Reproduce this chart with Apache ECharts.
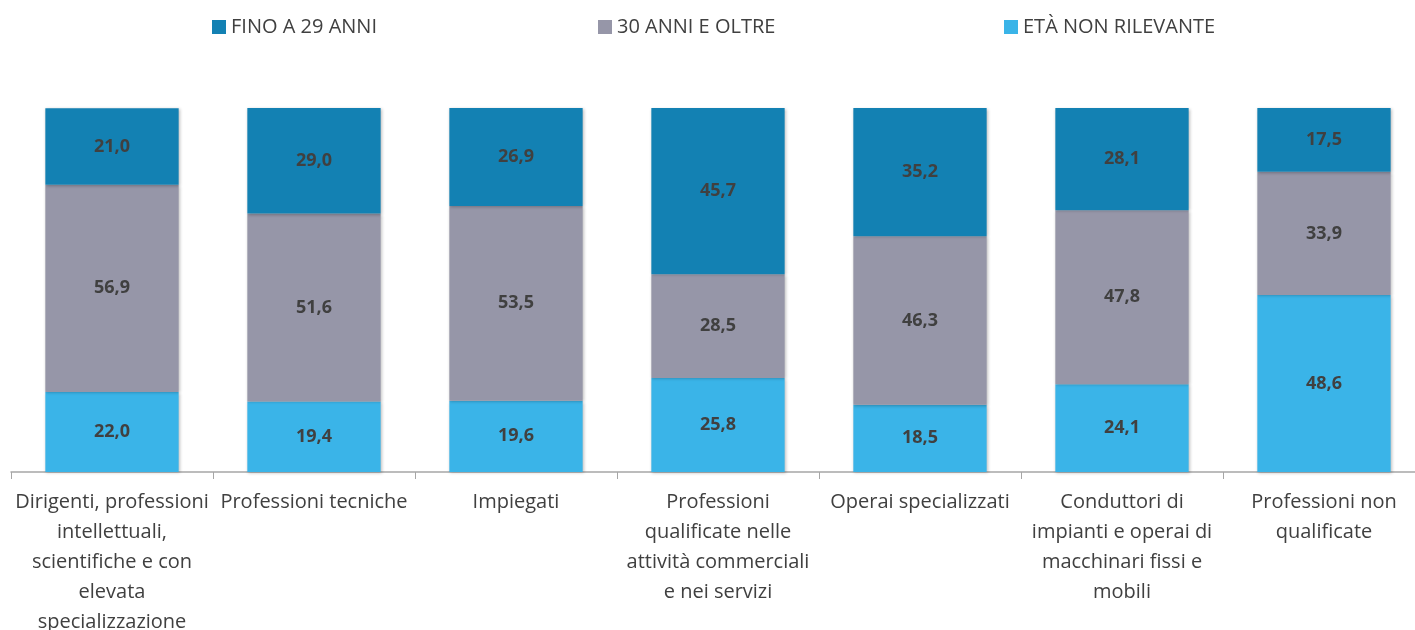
<!DOCTYPE html>
<html>
<head>
<meta charset="utf-8">
<script src="https://cdn.jsdelivr.net/npm/echarts@6/dist/echarts.min.js"></script>
<style>
  html, body { margin: 0; padding: 0; background: #fff; }
  #chart { width: 1415px; height: 630px; }
</style>
</head>
<body>
<div id="chart"></div>
<script>
const categories = [
  'Dirigenti, professioni\nintellettuali,\nscientifiche e con\nelevata\nspecializzazione',
  'Professioni tecniche',
  'Impiegati',
  'Professioni\nqualificate nelle\nattività commerciali\ne nei servizi',
  'Operai specializzati',
  'Conduttori di\nimpianti e operai di\nmacchinari fissi e\nmobili',
  'Professioni non\nqualificate'
]
const etaNonRilevante = [22.0, 19.4, 19.6, 25.8, 18.5, 24.1, 48.6]
const trentaEOltre = [56.9, 51.6, 53.5, 28.5, 46.3, 47.8, 33.9]
const fino29 = [21.0, 29.0, 26.9, 45.7, 35.2, 28.1, 17.5]

const FONT = 'Open Sans'
const TXT = '#404040'

let myChart = echarts.init(document.getElementById('chart'))

const labelStyle = {
  show: true,
  position: 'inside',
  color: TXT,
  fontFamily: FONT,
  fontWeight: 'bold',
  fontSize: 18,
  formatter: p => p.value.toFixed(1).replace('.', ',')
}
const barShadow = {
  shadowColor: 'rgba(0,0,0,0.25)',
  shadowBlur: 3,
  shadowOffsetX: 1,
  shadowOffsetY: 1
}
function legendAt(name, left) {
  return {
    data: [name],
    left: left,
    top: 12,
    itemWidth: 14,
    itemHeight: 14,
    itemGap: 6,
    icon: 'rect',
    textStyle: { fontFamily: FONT, fontSize: 20, color: TXT }
  }
}

myChart.setOption({
  animation: false,
  legend: [
    legendAt('FINO A 29 ANNI', 207),
    legendAt('30 ANNI E OLTRE', 593),
    legendAt('ETÀ NON RILEVANTE', 999)
  ],
  grid: {
    left: 11,
    top: 108,
    width: 1414,
    bottom: 158,
    outerBoundsMode: 'none'
  },
  xAxis: {
    type: 'category',
    data: categories,
    axisLine: { lineStyle: { color: '#a6a6a6', width: 1.5 } },
    axisTick: { show: true, length: 7, lineStyle: { color: '#a6a6a6' } },
    axisLabel: {
      interval: 0,
      margin: 15,
      color: TXT,
      fontFamily: FONT,
      fontSize: 20,
      lineHeight: 30
    }
  },
  yAxis: {
    type: 'value',
    min: 0,
    max: 100,
    show: false,
    splitLine: { show: false }
  },
  series: [
    {
      name: 'ETÀ NON RILEVANTE',
      type: 'bar',
      stack: 'tot',
      barWidth: '66%',
      data: etaNonRilevante,
      itemStyle: Object.assign({ color: '#3AB4E8' }, barShadow),
      label: labelStyle
    },
    {
      name: '30 ANNI E OLTRE',
      type: 'bar',
      stack: 'tot',
      data: trentaEOltre,
      itemStyle: Object.assign({ color: '#9696A8' }, barShadow),
      label: labelStyle
    },
    {
      name: 'FINO A 29 ANNI',
      type: 'bar',
      stack: 'tot',
      data: fino29,
      itemStyle: Object.assign({ color: '#1381B3' }, barShadow),
      label: labelStyle
    }
  ]
})
</script>
</body>
</html>
